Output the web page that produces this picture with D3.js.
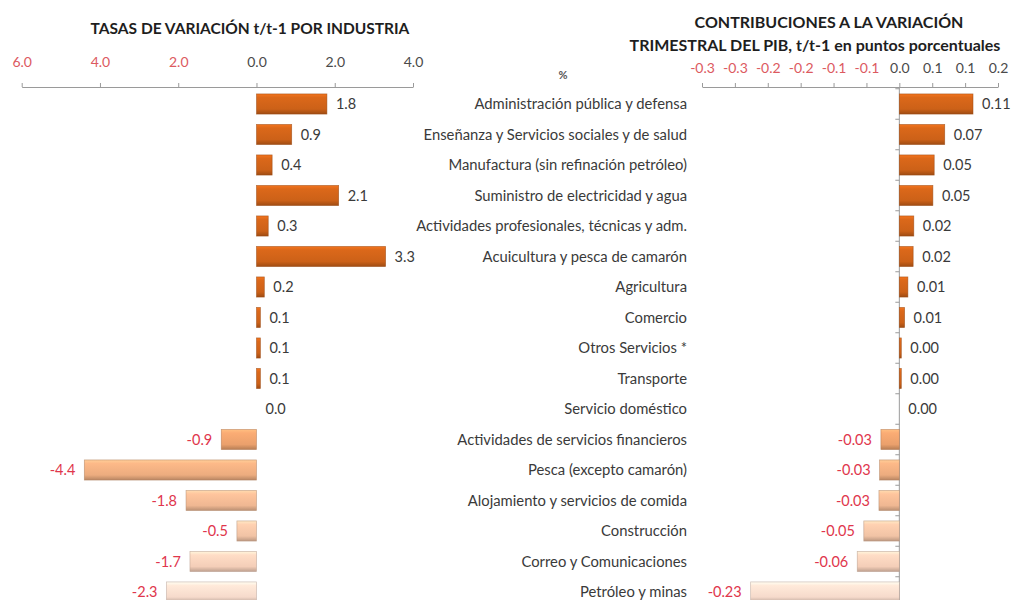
<!DOCTYPE html>
<html>
<head>
<meta charset="utf-8">
<script src="https://cdn.jsdelivr.net/npm/d3@7"></script>
<style>
  html, body { margin: 0; padding: 0; background: #fff; }
  svg { display: block; font-family: Lato, "Open Sans", sans-serif; }
</style>
</head>
<body>
<svg id="chart" width="1014" height="600"></svg>
<script>
// ---- data ----
const categories = [
  "Administración pública y defensa",
  "Enseñanza  y Servicios sociales y de salud",
  "Manufactura (sin refinación petróleo)",
  "Suministro de electricidad y agua",
  "Actividades profesionales, técnicas y adm.",
  "Acuicultura y pesca de camarón",
  "Agricultura",
  "Comercio",
  "Otros Servicios *",
  "Transporte",
  "Servicio doméstico",
  "Actividades de servicios financieros",
  "Pesca (excepto camarón)",
  "Alojamiento y servicios de comida",
  "Construcción",
  "Correo y Comunicaciones",
  "Petróleo y minas"
];
const rates = [1.8, 0.9, 0.4, 2.1, 0.3, 3.3, 0.2, 0.1, 0.1, 0.1, 0.0, -0.9, -4.4, -1.8, -0.5, -1.7, -2.3];
const contributions = [0.112, 0.069, 0.053, 0.051, 0.022, 0.021, 0.013, 0.008, 0.003, 0.003, 0.000, -0.028, -0.030, -0.031, -0.054, -0.064, -0.226];
const rateTicks = [-6, -4, -2, 0, 2, 4];
const rateTickLabels = ["6.0", "4.0", "2.0", "0.0", "2.0", "4.0"];
const contribTicks = [-0.30, -0.25, -0.20, -0.15, -0.10, -0.05, 0.00, 0.05, 0.10, 0.15];
const contribTickLabels = ["-0.3", "-0.3", "-0.2", "-0.2", "-0.1", "-0.1", "0.0", "0.1", "0.1", "0.2"];
const titleLeft = "TASAS DE VARIACIÓN t/t-1 POR INDUSTRIA";
const titleRight = ["CONTRIBUCIONES A LA VARIACIÓN", "TRIMESTRAL DEL PIB, t/t-1 en puntos porcentuales"];

// ---- layout ----
const svg = d3.select("#chart");
const defs = svg.append("defs");
const step = 30.5;
const y0 = 104 - step / 2;
const y = d3.scaleBand().domain(categories)
  .range([y0, y0 + step * categories.length])
  .paddingInner(0.34).paddingOuter(0.17);

const xL = d3.scaleLinear().domain([-6, 4]).range([21.7, 413]);
const xR = d3.scaleLinear().domain([-0.30, 0.15]).range([702, 998]);

const locale = d3.formatLocale({decimal: ".", thousands: ",", grouping: [3], currency: ["", ""], minus: "-"});

const posColor = "#cc6118";
const negColorScale = d3.scaleLinear().domain([11, 16]).range(["#eaa06c", "#f6dacb"]).interpolate(d3.interpolateRgb);
function barColor(v, i) { return v >= 0 ? posColor : negColorScale(i); }

let gid = 0;
function gradient(color) {
  const id = "g" + (gid++);
  const c = d3.color(color);
  const g = defs.append("linearGradient").attr("id", id).attr("x1", 0).attr("y1", 0).attr("x2", 0).attr("y2", 1);
  g.append("stop").attr("offset", "0%").attr("stop-color", c.brighter(0.5));
  g.append("stop").attr("offset", "18%").attr("stop-color", c.brighter(0.2));
  g.append("stop").attr("offset", "75%").attr("stop-color", c);
  g.append("stop").attr("offset", "100%").attr("stop-color", c.darker(0.7));
  return "url(#" + id + ")";
}

const textColor = "#3a3a3a";
const redLabel = "#e0364c";
const redTick = "#dc5a5f";
const axisColor = "#9a9a9a";

// ---- titles ----
svg.append("text").attr("x", 250).attr("y", 34).attr("text-anchor", "middle")
  .attr("font-size", 15.5).attr("font-weight", 700).attr("fill", "#1e1e1e").text(titleLeft);
svg.append("text").attr("x", 829).attr("y", 28).attr("text-anchor", "middle")
  .attr("font-size", 16).attr("font-weight", 700).attr("fill", "#1e1e1e").text(titleRight[0]);
svg.append("text").attr("x", 815).attr("y", 51).attr("text-anchor", "middle")
  .attr("font-size", 16).attr("font-weight", 700).attr("fill", "#1e1e1e").text(titleRight[1]);
svg.append("text").attr("x", 563).attr("y", 79).attr("text-anchor", "middle")
  .attr("font-size", 11).attr("font-weight", 700).attr("fill", "#555").text("%");

// ---- left axis ----
const axisY = 87;
const gL = svg.append("g").attr("transform", `translate(0,${axisY})`)
  .call(d3.axisTop(xL).tickValues(rateTicks).tickSize(4).tickSizeOuter(0)
    .tickFormat((d, i) => rateTickLabels[i]));
gL.select(".domain").attr("stroke", axisColor);
gL.selectAll(".tick line").attr("stroke", axisColor);
gL.selectAll(".tick text").attr("y", -20).attr("font-size", 14).attr("font-family", "Lato, sans-serif")
  .attr("fill", d => d < 0 ? redTick : "#4a4a4a");

// ---- right axis ----
const gR = svg.append("g").attr("transform", `translate(0,${axisY})`)
  .call(d3.axisTop(xR).tickValues(contribTicks).tickSize(4).tickSizeOuter(0)
    .tickFormat((d, i) => contribTickLabels[i]));
gR.select(".domain").attr("stroke", axisColor);
gR.selectAll(".tick line").attr("stroke", axisColor);
gR.selectAll(".tick text").attr("y", -14).attr("font-size", 14).attr("font-family", "Lato, sans-serif")
  .attr("fill", d => d < -1e-9 ? redTick : "#4a4a4a");

// right vertical axis at zero with tick marks between categories
const vTicks = d3.range(categories.length + 1).map(i => y0 + i * step);
svg.append("line").attr("x1", xR(0)).attr("x2", xR(0)).attr("y1", axisY).attr("y2", 600)
  .attr("stroke", axisColor);
svg.append("g").selectAll("line").data(vTicks).join("line")
  .attr("x1", xR(0) - 4).attr("x2", xR(0)).attr("y1", d => d).attr("y2", d => d)
  .attr("stroke", axisColor);

// ---- category labels ----
svg.append("g").selectAll("text").data(categories).join("text")
  .attr("x", 687).attr("y", d => y(d) + y.bandwidth() / 2).attr("dy", "0.35em")
  .attr("text-anchor", "end").attr("font-size", 14.8).attr("fill", textColor).text(d => d);

// ---- bars ----
function drawBars(values, x, fmt, gap) {
  const g = svg.append("g");
  values.forEach((v, i) => {
    const cat = categories[i];
    const x0 = x(Math.min(0, v)), x1 = x(Math.max(0, v));
    const w = x1 - x0;
    const col = barColor(v, i);
    if (w > 0.5) {
      g.append("rect").attr("x", x0).attr("y", y(cat)).attr("width", w).attr("height", y.bandwidth())
        .attr("fill", gradient(col)).attr("stroke", d3.color(col).darker(0.8)).attr("stroke-width", 0.7)
        .attr("stroke-opacity", 0.7);
    }
    const cy = y(cat) + y.bandwidth() / 2;
    const neg = v < 0;
    g.append("text")
      .attr("x", neg ? x0 - gap : x1 + gap)
      .attr("y", cy).attr("dy", "0.35em")
      .attr("text-anchor", neg ? "end" : "start")
      .attr("font-size", 14.5)
      .attr("fill", neg ? redLabel : textColor)
      .text(fmt(v));
  });
}
drawBars(rates, xL, locale.format(".1f"), 9);
drawBars(contributions, xR, locale.format(".2f"), 9);
</script>
</body>
</html>
